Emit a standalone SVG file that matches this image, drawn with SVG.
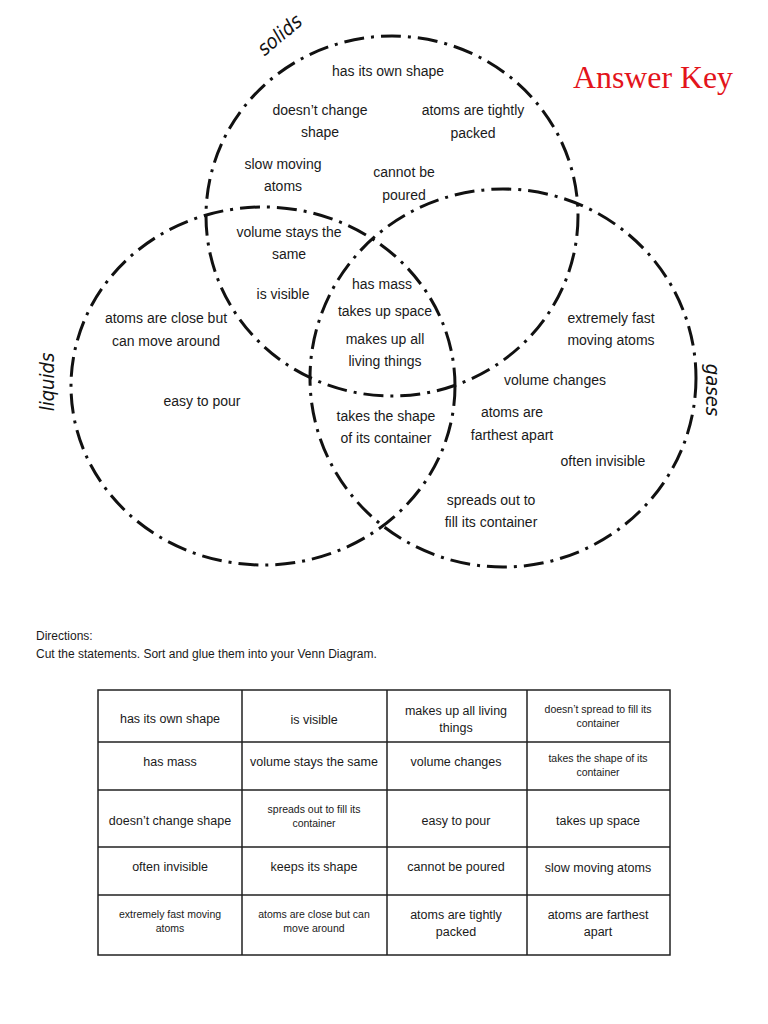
<svg xmlns="http://www.w3.org/2000/svg" width="768" height="1024" viewBox="0 0 768 1024">
<style>
.c{fill:none;stroke:#111;stroke-width:3;stroke-dasharray:20 7 3 7}
.t{font-family:"Liberation Sans",Arial,sans-serif;font-size:14px;fill:#1a1a1a;text-anchor:middle}
.lb{font-family:"DejaVu Sans Condensed","Liberation Sans",sans-serif;font-size:20px;fill:#111;text-anchor:middle;font-style:italic}
.tb{font-family:"Liberation Sans",Arial,sans-serif;font-size:12.5px;fill:#1a1a1a;text-anchor:middle}
.ts{font-family:"Liberation Sans",Arial,sans-serif;font-size:10.5px;fill:#1a1a1a;text-anchor:middle}
.d{font-family:"Liberation Sans",Arial,sans-serif;font-size:12px;fill:#1a1a1a}
.g{fill:none;stroke:#222;stroke-width:1.5}
</style>
<rect width="768" height="1024" fill="#fff"/>
<g id="venn">
<ellipse id="solids" class="c" cx="392" cy="216" rx="186" ry="180"/>
<ellipse id="liquids" class="c" cx="263" cy="386" rx="192" ry="179"/>
<ellipse id="gases" class="c" cx="503" cy="378" rx="193" ry="189"/>
</g>
<g id="labels">
<text class="lb" transform="translate(284,40) rotate(-40)">solids</text>
<text class="lb" transform="translate(54,382) rotate(-90)">liquids</text>
<text class="lb" transform="translate(706,390) rotate(90)">gases</text>
</g>
<text x="653" y="88" font-family="Liberation Serif,serif" font-size="31" fill="#e3141b" text-anchor="middle" textLength="160" lengthAdjust="spacingAndGlyphs">Answer Key</text>
<g id="venn-text" class="t">
<text x="388" y="76">has its own shape</text>
<text x="320" y="115">doesn’t change</text>
<text x="320" y="137">shape</text>
<text x="473" y="115">atoms are tightly</text>
<text x="473" y="138">packed</text>
<text x="283" y="169">slow moving</text>
<text x="283" y="191">atoms</text>
<text x="404" y="177">cannot be</text>
<text x="404" y="200">poured</text>
<text x="289" y="237">volume stays the</text>
<text x="289" y="259">same</text>
<text x="283" y="299">is visible</text>
<text x="382" y="289">has mass</text>
<text x="385" y="316">takes up space</text>
<text x="385" y="344">makes up all</text>
<text x="385" y="366">living things</text>
<text x="166" y="323">atoms are close but</text>
<text x="166" y="346">can move around</text>
<text x="202" y="406">easy to pour</text>
<text x="611" y="323">extremely fast</text>
<text x="611" y="345">moving atoms</text>
<text x="555" y="385">volume changes</text>
<text x="512" y="417">atoms are</text>
<text x="512" y="440">farthest apart</text>
<text x="603" y="466">often invisible</text>
<text x="386" y="421">takes the shape</text>
<text x="386" y="443">of its container</text>
<text x="491" y="505">spreads out to</text>
<text x="491" y="527">fill its container</text>
</g>
<g id="directions" class="d">
<text x="36" y="640">Directions:</text>
<text x="36" y="658">Cut the statements. Sort and glue them into your Venn Diagram.</text>
</g>
<g id="table">
<rect class="g" x="98" y="690" width="572" height="265"/>
<path class="g" d="M242 690V955M387 690V955M527 690V955M98 742H670M98 790H670M98 847H670M98 895H670"/>
<g class="tb">
<text x="170" y="723">has its own shape</text>
<text x="314" y="724">is visible</text>
<text x="456" y="715">makes up all living</text>
<text x="456" y="732">things</text>
<text x="170" y="766">has mass</text>
<text x="314" y="766">volume stays the same</text>
<text x="456" y="766">volume changes</text>
<text x="170" y="825">doesn’t change shape</text>
<text x="456" y="825">easy to pour</text>
<text x="598" y="825">takes up space</text>
<text x="170" y="871">often invisible</text>
<text x="314" y="871">keeps its shape</text>
<text x="456" y="871">cannot be poured</text>
<text x="598" y="872">slow moving atoms</text>
<text x="456" y="919">atoms are tightly</text>
<text x="456" y="936">packed</text>
<text x="598" y="919">atoms are farthest</text>
<text x="598" y="936">apart</text>
</g>
<g class="ts">
<text x="598" y="713">doesn’t spread to fill its</text>
<text x="598" y="727">container</text>
<text x="598" y="762">takes the shape of its</text>
<text x="598" y="776">container</text>
<text x="314" y="813">spreads out to fill its</text>
<text x="314" y="827">container</text>
<text x="170" y="918">extremely fast moving</text>
<text x="170" y="932">atoms</text>
<text x="314" y="918">atoms are close but can</text>
<text x="314" y="932">move around</text>
</g>
</g>
</svg>
